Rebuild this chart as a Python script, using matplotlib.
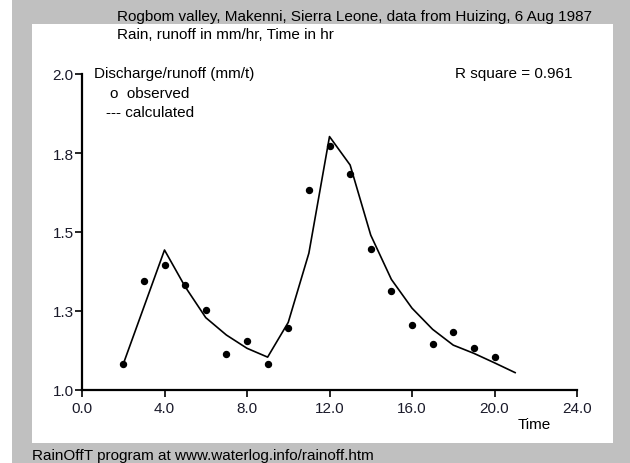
import matplotlib
matplotlib.use('Agg')
import matplotlib.pyplot as plt
from matplotlib.patches import Rectangle

# Rogbom valley runoff, observed vs calculated (RainOffT output)
time_obs = [2, 3, 4, 5, 6, 7, 8, 9, 10, 11, 12, 13, 14, 15, 16, 17, 18, 19, 20]
runoff_obs = [1.082, 1.345, 1.395, 1.332, 1.254, 1.114, 1.155, 1.082, 1.195,
              1.633, 1.773, 1.683, 1.445, 1.313, 1.205, 1.146, 1.183, 1.132, 1.104]

time_calc = [2, 4, 5, 6, 7, 8, 9, 10, 11, 12, 13, 14, 15, 16, 17, 18, 19, 20, 21]
runoff_calc = [1.082, 1.443, 1.327, 1.229, 1.174, 1.132, 1.104, 1.214, 1.433,
               1.802, 1.712, 1.490, 1.350, 1.259, 1.192, 1.142, 1.116, 1.086, 1.055]

x_ticks = [0, 4, 8, 12, 16, 20, 24]
x_labels = ['0.0', '4.0', '8.0', '12.0', '16.0', '20.0', '24.0']
y_ticks = [1.0, 1.25, 1.5, 1.75, 2.0]
y_labels = ['1.0', '1.3', '1.5', '1.8', '2.0']

r_square = 0.961

plt.rcParams['font.family'] = ['Liberation Sans', 'DejaVu Sans']
FS = 11

W, H = 630, 464
fig = plt.figure(figsize=(W / 100, H / 100), dpi=100, facecolor='#c0c0c0')

def px(x, y):
    # pixel position (from top-left) -> figure fraction
    return x / W, 1 - y / H

# white margin on the far left and the white plotting panel
fig.patches.append(Rectangle((0, 0), 12 / W, 1, transform=fig.transFigure,
                             facecolor='white', edgecolor='none', zorder=-5))
fig.patches.append(Rectangle(px(32, 444), (613 - 32) / W, (444 - 25) / H,
                             transform=fig.transFigure, facecolor='white',
                             edgecolor='none', zorder=-5))

ax = fig.add_axes([82 / W, 1 - 391 / H, (577 - 82) / W, (391 - 75) / H])
ax.set_facecolor('none')

ax.plot(time_calc, runoff_calc, color='black', lw=1.2, clip_on=False)
ax.plot(time_obs, runoff_obs, 'o', color='black', markersize=4.3, clip_on=False)

ax.set_xlim(0, 24)
ax.set_ylim(1.0, 2.0)
ax.set_xticks(x_ticks)
ax.set_xticklabels(x_labels)
ax.set_yticks(y_ticks)
ax.set_yticklabels(y_labels)
ax.tick_params(direction='out', length=5, width=1.2, pad=1, labelsize=FS,
               colors='black', labelcolor='#1a1a2a')
ax.tick_params(axis='x', pad=3)

for side in ['top', 'right']:
    ax.spines[side].set_visible(False)
for side in ['left', 'bottom']:
    ax.spines[side].set_linewidth(1.6)

# titles and labels
fig.text(*px(117, 17), 'Rogbom valley, Makenni, Sierra Leone, data from Huizing, 6 Aug 1987',
         ha='left', va='center', fontsize=FS)
fig.text(*px(117, 35), 'Rain, runoff in mm/hr, Time in hr', ha='left', va='center', fontsize=FS)
fig.text(*px(94, 74), 'Discharge/runoff (mm/t)', ha='left', va='center', fontsize=FS)
fig.text(*px(110, 94), 'o  observed', ha='left', va='center', fontsize=FS)
fig.text(*px(106, 113), '--- calculated', ha='left', va='center', fontsize=FS)
fig.text(*px(455, 74), 'R square = %.3f' % r_square, ha='left', va='center', fontsize=FS)
fig.text(*px(518, 425), 'Time', ha='left', va='center', fontsize=FS)
fig.text(*px(32, 456), 'RainOffT program at www.waterlog.info/rainoff.htm',
         ha='left', va='center', fontsize=FS)

fig.savefig('out.png', dpi=100, facecolor=fig.get_facecolor())
